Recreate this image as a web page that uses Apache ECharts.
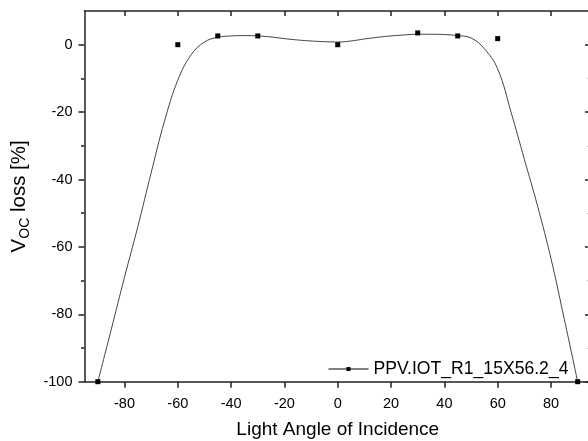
<!DOCTYPE html>
<html>
<head>
<meta charset="utf-8">
<script src="https://cdn.jsdelivr.net/npm/echarts@6/dist/echarts.min.js"></script>
<style>html,body{margin:0;padding:0;background:#fff}#c{width:588px;height:441px}</style>
</head>
<body>
<div id="c"></div>
<script>
// measured points
const angles = [-90, -60, -45, -30, 0, 30, 45, 60, 90];
const vocLoss = [-100, 0, 2.6, 2.6, 0, 3.5, 2.6, 1.8, -100];
// fitted curve
const fitAngles = [-90,-85,-80,-75,-70,-65,-60,-55,-50,-45,-40,-35,-30,-25,-20,-15,-10,-5,0,5,10,15,20,25,30,35,40,45,50,55,60,65,70,75,80,85,90];
const fitValues = [-100,-84.6,-69,-54,-38,-22.7,-10.5,-3,0.8,2.2,2.6,2.7,2.6,2.3,1.8,1.4,1.1,0.9,0.8,1.1,1.7,2.2,2.6,2.9,3.1,3.1,3.0,2.7,2.0,-1.2,-7.2,-20,-34,-48,-63.5,-81.5,-100];
const xTicks = [-80,-60,-40,-20,0,20,40,60,80];
const yTicks = [-100,-80,-60,-40,-20,0];
const yMinor = [-90,-70,-50,-30,-10];
const seriesName = 'PPV.IOT_R1_15X56.2_4';

const font = 'Liberation Sans, Arial, sans-serif';
const chart = echarts.init(document.getElementById('c'), null, {renderer:'canvas'});
const axisLine = {show:true, onZero:false, lineStyle:{color:'#222', width:1.5}};
const noLine = {show:false, onZero:false};
const noSplit = {show:false};
chart.setOption({
  animation:false,
  backgroundColor:'#fff',
  grid:{left:84.5, width:506.5, top:11, height:370.7, containLabel:false, outerBoundsMode:'none'},
  xAxis:[
    {type:'value', position:'bottom', min:-95, max:95,
     axisLine:axisLine, splitLine:noSplit,
     axisTick:{show:true, inside:false, length:6, customValues:xTicks, lineStyle:{color:'#222', width:1.5}},
     axisLabel:{show:true, customValues:xTicks, margin:15, color:'#000', fontSize:14.5, fontFamily:font},
     name:'Light Angle of Incidence', nameLocation:'middle', nameGap:39,
     nameTextStyle:{fontSize:19, color:'#000', fontFamily:font}},
    {type:'value', position:'top', min:-95, max:95,
     axisLine:axisLine, splitLine:noSplit,
     axisTick:{show:true, inside:true, length:5, customValues:xTicks, lineStyle:{color:'#222', width:1.5}},
     axisLabel:{show:false}}
  ],
  yAxis:[
    {type:'value', position:'left', min:-100, max:10,
     axisLine:axisLine, splitLine:noSplit,
     axisTick:{show:true, inside:false, length:6, customValues:yTicks, lineStyle:{color:'#222', width:1.5}},
     axisLabel:{show:true, customValues:yTicks, margin:12, color:'#000', fontSize:14.5, fontFamily:font},
     name:'{v|V}{s|OC}{v| loss [%]}', nameLocation:'middle', nameGap:47, nameRotate:90,
     nameTextStyle:{color:'#000', fontFamily:font,
       rich:{v:{fontSize:20.5, fontFamily:font, color:'#000', lineHeight:25, verticalAlign:'bottom'},
             s:{fontSize:14, fontFamily:font, color:'#000', lineHeight:18, verticalAlign:'bottom', padding:[0,0,-3,0]}}}},
    {type:'value', position:'left', min:-100, max:10,
     axisLine:noLine, splitLine:noSplit, axisLabel:{show:false},
     axisTick:{show:true, inside:false, length:3.5, customValues:yMinor, lineStyle:{color:'#222', width:1.5}}},
    {type:'value', position:'right', min:-100, max:10,
     axisLine:axisLine, splitLine:noSplit, axisLabel:{show:false},
     axisTick:{show:true, inside:true, length:6, customValues:yTicks, lineStyle:{color:'#222', width:1.5}}},
    {type:'value', position:'right', min:-100, max:10,
     axisLine:noLine, splitLine:noSplit, axisLabel:{show:false},
     axisTick:{show:true, inside:true, length:4, customValues:yMinor, lineStyle:{color:'#bbb', width:1}}}
  ],
  legend:{
    show:true, left:323, top:355, itemWidth:40, itemHeight:5, itemGap:5,
    data:[{name:seriesName}],
    textStyle:{fontSize:17.6, color:'#000', fontFamily:font},
    lineStyle:{color:'#000', width:1, opacity:1},
    itemStyle:{color:'#000'}
  },
  series:[
    {type:'line', name:'fit', data:fitAngles.map((a,i)=>[a,fitValues[i]]), smooth:0.4,
     showSymbol:false, symbol:'none', lineStyle:{color:'#444', width:1}, z:2, silent:true},
    {type:'line', name:seriesName, data:angles.map((a,i)=>[a,vocLoss[i]]),
     symbol:'rect', symbolSize:5, showSymbol:true, itemStyle:{color:'#000'},
     lineStyle:{opacity:0, width:1, color:'#000'}, z:3}
  ]
});
</script>
</body>
</html>
